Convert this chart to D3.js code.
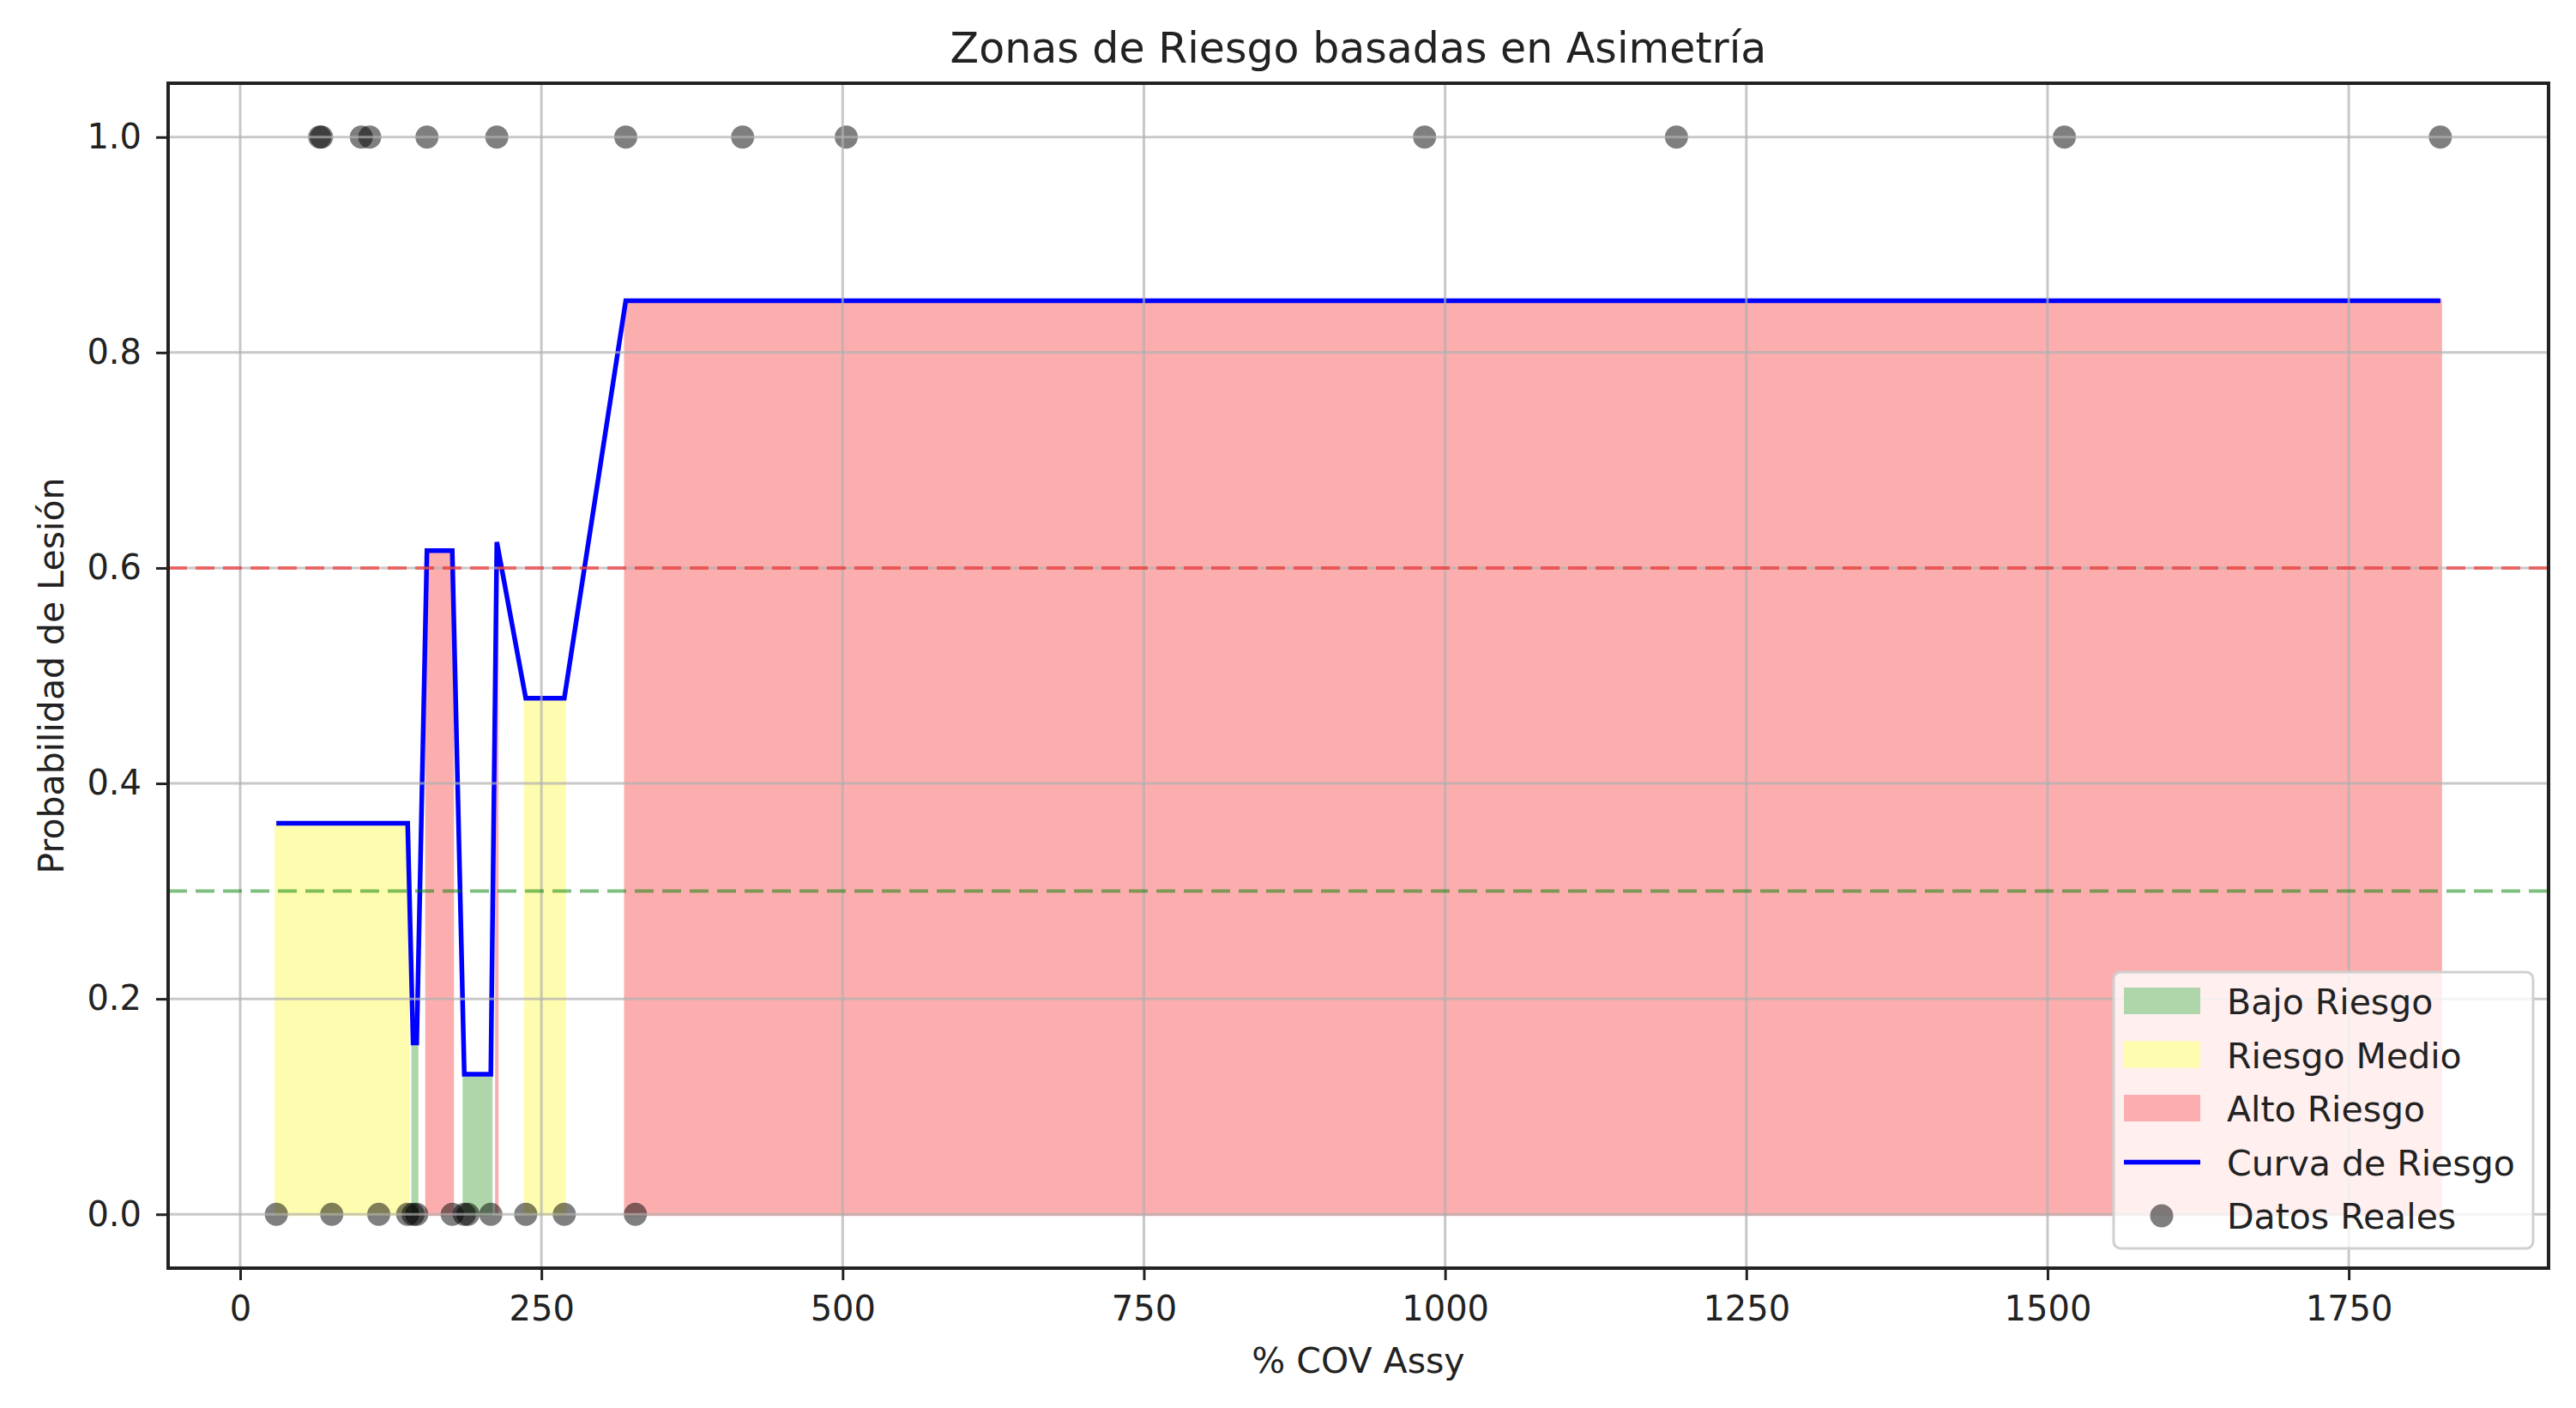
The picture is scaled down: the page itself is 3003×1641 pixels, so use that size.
<!DOCTYPE html>
<html>
<head>
<meta charset="utf-8">
<script src="https://cdn.jsdelivr.net/npm/d3@7"></script>
<style>
  body { margin: 0; background: #fff; }
  text { font-family: "DejaVu Sans", sans-serif; fill: #222; }
</style>
</head>
<body>
<div id="chart"></div>
<script>
// observations (x = % COV Assy), split by outcome
var zeroX = [30, 76, 115, 139, 143.5, 146.5, 176, 186, 189, 208, 237, 269, 328];
var oneX = [66, 67.5, 100.5, 107.5, 155, 213, 320, 417, 503, 983, 1192, 1514, 1826];

// risk curve: predicted probability at each sorted observation
var curveX = [30, 66, 67.5, 76, 100.5, 107.5, 115, 139, 143.5, 146.5, 155, 176,
              186, 189, 208, 213, 237, 269, 320, 328, 417, 503, 983, 1192, 1514, 1826];
var curveY = [0.363, 0.363, 0.363, 0.363, 0.363, 0.363, 0.363, 0.363, 0.159, 0.159, 0.616, 0.616,
              0.13, 0.13, 0.13, 0.624, 0.479, 0.479, 0.848, 0.848, 0.848, 0.848, 0.848, 0.848, 0.848, 0.848];

var lowCut = 0.3, highCut = 0.6;
var xTicks = [0, 250, 500, 750, 1000, 1250, 1500, 1750];
var yTicks = [0, 0.2, 0.4, 0.6, 0.8, 1.0];

var zoneNames = ["Bajo Riesgo", "Riesgo Medio", "Alto Riesgo"];
var zoneColors = ["#aed6aa", "#fefcae", "#fcaeae"];

var W = 3003, H = 1641;
var margin = { top: 97, right: 32, bottom: 163, left: 196 },
    width = W - margin.left - margin.right,
    height = H - margin.top - margin.bottom;

var svg = d3.select("#chart").append("svg")
    .attr("width", W)
    .attr("height", H);

var g = svg.append("g")
    .attr("transform", "translate(" + margin.left + "," + margin.top + ")");

// matplotlib style 5% margins
var allX = zeroX.concat(oneX);
var ext = d3.extent(allX), pad = (ext[1] - ext[0]) * 0.05;
var x = d3.scaleLinear().domain([ext[0] - pad, ext[1] + pad]).range([0, width]);
var y = d3.scaleLinear().domain([-0.05, 1.05]).range([height, 0]);

g.append("defs").append("clipPath").attr("id", "clip")
    .append("rect").attr("width", width).attr("height", height);

var plot = g.append("g").attr("clip-path", "url(#clip)");

// zones: contiguous runs of points in the same risk class
function zoneOf(v) { return v < lowCut ? 0 : (v < highCut ? 1 : 2); }
var runs = [];
curveY.forEach(function(v, i) {
    var z = zoneOf(v);
    var last = runs[runs.length - 1];
    if (last && last.zone === z && last.end === i - 1) last.end = i;
    else runs.push({ zone: z, start: i, end: i });
});

var area = d3.area()
    .x(function(i) { return x(curveX[i]); })
    .y0(y(0))
    .y1(function(i) { return y(curveY[i]); });

plot.selectAll(".zone")
    .data(runs)
    .enter()
    .append("path")
    .attr("class", "zone")
    .attr("d", function(r) { return area(d3.range(r.start, r.end + 1)); })
    .attr("fill", function(r) { return zoneColors[r.zone]; })
    .attr("stroke", function(r) { return zoneColors[r.zone]; })
    .attr("stroke-width", 4);

// real data points
var pts = zeroX.map(function(v) { return [v, 0]; })
    .concat(oneX.map(function(v) { return [v, 1]; }));

plot.selectAll(".dot")
    .data(pts)
    .enter()
    .append("circle")
    .attr("class", "dot")
    .attr("cx", function(d) { return x(d[0]); })
    .attr("cy", function(d) { return y(d[1]); })
    .attr("r", 13.5)
    .attr("fill", "#000")
    .attr("fill-opacity", 0.5);

// grid
var grid = g.append("g");
grid.selectAll(".vg").data(xTicks).enter().append("line")
    .attr("x1", function(d) { return x(d); }).attr("x2", function(d) { return x(d); })
    .attr("y1", 0).attr("y2", height)
    .attr("stroke", "#b0b0b0").attr("stroke-opacity", 0.7).attr("stroke-width", 3);
grid.selectAll(".hg").data(yTicks).enter().append("line")
    .attr("y1", function(d) { return y(d); }).attr("y2", function(d) { return y(d); })
    .attr("x1", 0).attr("x2", width)
    .attr("stroke", "#b0b0b0").attr("stroke-opacity", 0.7).attr("stroke-width", 3);

// thresholds
g.selectAll(".thr")
    .data([[highCut, "#ff0000"], [lowCut, "#008000"]])
    .enter()
    .append("line")
    .attr("x1", 0).attr("x2", width)
    .attr("y1", function(d) { return y(d[0]); })
    .attr("y2", function(d) { return y(d[0]); })
    .attr("stroke", function(d) { return d[1]; })
    .attr("stroke-opacity", 0.5)
    .attr("stroke-width", 4)
    .attr("stroke-dasharray", "22,10");

// risk curve
var line = d3.line()
    .x(function(d, i) { return x(curveX[i]); })
    .y(function(d) { return y(d); });

plot.append("path")
    .attr("d", line(curveY))
    .attr("fill", "none")
    .attr("stroke", "#0000ff")
    .attr("stroke-width", 5.5)
    .attr("stroke-linejoin", "miter");

// axes
var xAxis = g.append("g")
    .attr("transform", "translate(0," + height + ")")
    .call(d3.axisBottom(x).tickValues(xTicks).tickFormat(d3.format("d")).tickSize(14).tickPadding(19));
var yAxis = g.append("g")
    .call(d3.axisLeft(y).tickValues(yTicks).tickFormat(d3.format(".1f")).tickSize(14).tickPadding(17));

[xAxis, yAxis].forEach(function(a) {
    a.select(".domain").remove();
    a.selectAll(".tick line").attr("stroke", "#222").attr("stroke-width", 3);
    a.selectAll(".tick text").attr("font-size", 40).attr("fill", "#222")
        .style("font-family", "DejaVu Sans");
});

// spines
g.append("rect")
    .attr("width", width).attr("height", height)
    .attr("fill", "none").attr("stroke", "#222").attr("stroke-width", 4);

// titles
svg.append("text")
    .attr("x", margin.left + width / 2).attr("y", 73)
    .attr("text-anchor", "middle").attr("font-size", 49)
    .text("Zonas de Riesgo basadas en Asimetría");

svg.append("text")
    .attr("x", margin.left + width / 2).attr("y", 1600)
    .attr("text-anchor", "middle").attr("font-size", 41)
    .text("% COV Assy");

svg.append("text")
    .attr("transform", "translate(74," + (margin.top + height / 2) + ") rotate(-90)")
    .attr("text-anchor", "middle").attr("font-size", 41)
    .text("Probabilidad de Lesión");

// legend
var legendItems = [
    { label: zoneNames[0], kind: "patch", color: zoneColors[0] },
    { label: zoneNames[1], kind: "patch", color: zoneColors[1] },
    { label: zoneNames[2], kind: "patch", color: zoneColors[2] },
    { label: "Curva de Riesgo", kind: "line", color: "#0000ff" },
    { label: "Datos Reales", kind: "dot", color: "#000" }
];

var legend = svg.append("g").attr("transform", "translate(2464,1133)");
legend.append("rect")
    .attr("width", 489).attr("height", 322)
    .attr("rx", 8).attr("ry", 8)
    .attr("fill", "#fff").attr("fill-opacity", 0.8)
    .attr("stroke", "#d0d0d0").attr("stroke-width", 3);

var row = legend.selectAll(".row")
    .data(legendItems)
    .enter()
    .append("g")
    .attr("transform", function(d, i) { return "translate(0," + (34 + i * 62.5) + ")"; });

row.filter(function(d) { return d.kind === "patch"; })
    .append("rect")
    .attr("x", 12).attr("y", -16).attr("width", 89).attr("height", 31)
    .attr("fill", function(d) { return d.color; });
row.filter(function(d) { return d.kind === "line"; })
    .append("line")
    .attr("x1", 12).attr("x2", 101).attr("y1", 0).attr("y2", 0)
    .attr("stroke", function(d) { return d.color; }).attr("stroke-width", 5.5);
row.filter(function(d) { return d.kind === "dot"; })
    .append("circle")
    .attr("cx", 56).attr("cy", 0).attr("r", 13.5)
    .attr("fill", "#000").attr("fill-opacity", 0.5);

row.append("text")
    .attr("x", 132).attr("y", 15)
    .attr("font-size", 41)
    .text(function(d) { return d.label; });
</script>
</body>
</html>
